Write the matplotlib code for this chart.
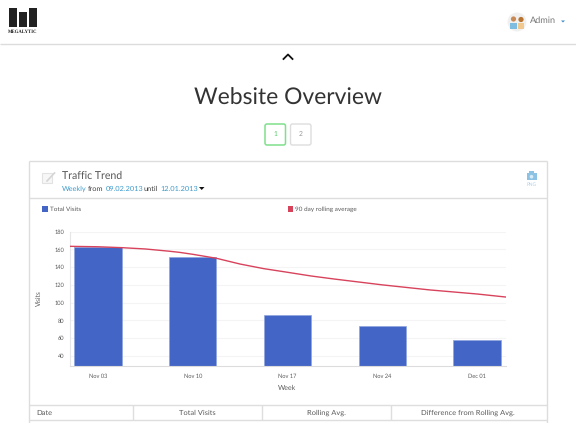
import matplotlib
matplotlib.use('Agg')
import matplotlib.pyplot as plt
from matplotlib.patches import Rectangle, FancyBboxPatch, Circle, Polygon

W, H = 576, 423

# --- data ---
weeks = ['Nov 03', 'Nov 10', 'Nov 17', 'Nov 24', 'Dec 01']
visits = [163, 151, 86, 73.5, 58]
line_x = [-0.3, 0, 0.25, 0.5, 0.75, 0.86, 1, 1.25, 1.5, 1.75, 2, 2.25, 2.5, 3, 3.5, 4, 4.3]
rolling = [163.5, 163, 162, 160.5, 158, 156.7, 154.5, 150, 143.5, 138.3, 134.2, 130, 126.5, 120, 114.3, 109.7, 106.3]
y_ticks = [40, 60, 80, 100, 120, 140, 160, 180]
table_cols = ['Date', 'Total Visits', 'Rolling Avg.', 'Difference from Rolling Avg.']

BLUE = '#4365c5'
RED = '#d8435c'
GREY = '#5a5a5a'
LINK = '#3f9bcb'
RULE = '#dedede'

plt.rcParams['font.family'] = ['Lato', 'DejaVu Sans']
plt.rcParams['text.hinting'] = 'no_hinting'
fig = plt.figure(figsize=(W / 100, H / 100), dpi=100)

# page layer in pixel coordinates, y pointing down
page = fig.add_axes([0, 0, 1, 1])
page.set_xlim(0, W)
page.set_ylim(H, 0)
page.axis('off')


def hline(y, x0, x1, color=RULE, lw=1.0):
    page.plot([x0, x1], [y, y], color=color, lw=lw, solid_capstyle='butt')


def vline(x, y0, y1, color=RULE, lw=1.0):
    page.plot([x, x], [y0, y1], color=color, lw=lw, solid_capstyle='butt')


def label(x, y, s, size, color=GREY, ha='left', **kw):
    page.text(x, y, s, fontsize=size, color=color, ha=ha, va='center', **kw)


# --- top bar ---
for x0, x1, top in [(9, 17, 8), (19, 26.5, 12.5), (28.5, 36.5, 8)]:
    page.add_patch(Rectangle((x0, top), x1 - x0, 27.5 - top, color='#222222', lw=0))
label(22.7, 31.5, 'MEGALYTIC', 3.4, color='#222222', ha='center',
      family=['Liberation Serif'], weight='bold')
hline(44.5, 0, W, color='#dcdcdc')

# avatar and user menu
page.add_patch(Circle((517, 22), 9.5, color='#f0f0f0', lw=0))
page.add_patch(Circle((513.5, 19), 2.6, color='#c98a55', lw=0))
page.add_patch(Circle((521, 19.5), 2.6, color='#b9742f', lw=0))
page.add_patch(Rectangle((509.5, 23), 7, 6.5, color='#7fbde0', lw=0))
page.add_patch(Rectangle((517.5, 23.5), 6, 5.5, color='#f0c890', lw=0))
label(530, 20.5, 'Admin', 6.6, color='#777777')
page.add_patch(Polygon([(561, 20.5), (565, 20.5), (563, 22.5)], color='#3f8fc9', lw=0))

# collapse chevron
page.plot([283.5, 288, 292.5], [59, 54.5, 59], color='#111111', lw=1.3)

label(288, 98.5, 'Website Overview', 16.5, color='#333333', ha='center')

# pager
page.add_patch(FancyBboxPatch((265, 124), 20.5, 21, boxstyle='round,pad=0,rounding_size=2',
                              fc='white', ec='#7fe08c', lw=1.1))
page.add_patch(FancyBboxPatch((290.5, 124), 20.5, 21, boxstyle='round,pad=0,rounding_size=2',
                              fc='white', ec='#dddddd', lw=1.0))
label(275.3, 134.5, '1', 4.8, color='#55c965', ha='center')
label(300.5, 134.5, '2', 4.8, color='#999999', ha='center')

# --- card ---
hline(161.5, 28.5, 547, color='#dddddd')
vline(28.8, 161, H, color='#dddddd')
vline(546.8, 161, H, color='#dddddd')
hline(198.5, 28.5, 547, color='#dddddd')

page.add_patch(Rectangle((42, 173.5), 10, 9.5, fc='#f7f7f7', ec='#e2e2e2', lw=0.8))
page.plot([47, 54.5], [181, 173], color='#d5d5d5', lw=1.2)
label(62, 175.5, 'Traffic Trend', 7.6, color='#555555')
label(62, 188.5, 'Weekly', 5.3, color=LINK)
label(88, 188.5, 'from', 5.3, color='#444444')
label(106, 188.5, '09.02.2013', 5.3, color=LINK)
label(143.5, 188.5, 'until', 5.3, color='#444444')
label(160.5, 188.5, '12.01.2013', 5.3, color=LINK)
page.add_patch(Polygon([(199, 187), (204.5, 187), (201.7, 190)], color='#111111', lw=0))

# camera / PNG button
page.add_patch(Rectangle((526.5, 173), 10, 7.5, color='#8cc3e4', lw=0))
page.add_patch(Rectangle((529, 171.5), 5, 2, color='#8cc3e4', lw=0))
page.add_patch(Circle((531.5, 176.7), 1.8, color='#d8ecf7', lw=0))
label(531.5, 184.5, 'PNG', 3.4, color='#a9cfe8', ha='center')

# chart legend
page.add_patch(Rectangle((42, 206.5), 5.5, 5.5, color=BLUE, lw=0))
label(50, 209.5, 'Total Visits', 4.6)
page.add_patch(Rectangle((288, 206.5), 5, 5.5, color=RED, lw=0))
label(295, 209.5, '90 day rolling average', 4.6)

# --- table header ---
hline(405.5, 28.5, 547)
hline(420.5, 28.5, 547)
for x in [132.5, 261.5, 390.5]:
    vline(x, 405.5, 420.5)
label(36, 413, table_cols[0], 5.4)
label(197, 413, table_cols[1], 5.4, ha='center')
label(326, 413, table_cols[2], 5.4, ha='center')
label(467.5, 413, table_cols[3], 5.4, ha='center')

# --- chart itself ---
ax_l, ax_r, ax_t, ax_b = 69.5, 505.5, 231.7, 365.5
ax = fig.add_axes([ax_l / W, 1 - ax_b / H, (ax_r - ax_l) / W, (ax_b - ax_t) / H])
ax.patch.set_alpha(0)
ax.bar(range(len(weeks)), visits, width=0.5, color=BLUE, edgecolor='#8fa5e0', linewidth=0.5, zorder=2)
ax.plot(line_x, rolling, color=RED, lw=1.0, zorder=3)

ax.set_xlim(-0.3, 4.3)
ax.set_ylim(29, 180)
ax.set_yticks(y_ticks)
ax.set_xticks(range(len(weeks)))
ax.set_xticklabels(weeks)
ax.grid(axis='y', color='#f4f4f4', lw=0.8, zorder=0)
ax.set_axisbelow(True)
ax.tick_params(axis='both', labelsize=4.1, labelcolor=GREY, length=0, pad=3.6)
ax.tick_params(axis='x', pad=5.8)
for side in ['top', 'right']:
    ax.spines[side].set_visible(False)
ax.spines['left'].set_color('#e6e6e6')
ax.spines['left'].set_linewidth(0.8)
ax.spines['bottom'].set_color('#dcdcdc')
ax.spines['bottom'].set_linewidth(0.8)
label(287.5, 388, 'Week', 5.0, ha='center')
page.text(38.5, 298, 'Visits', fontsize=4.8, color=GREY, rotation=90, ha='center', va='center')

fig.savefig('out.png', dpi=100)
